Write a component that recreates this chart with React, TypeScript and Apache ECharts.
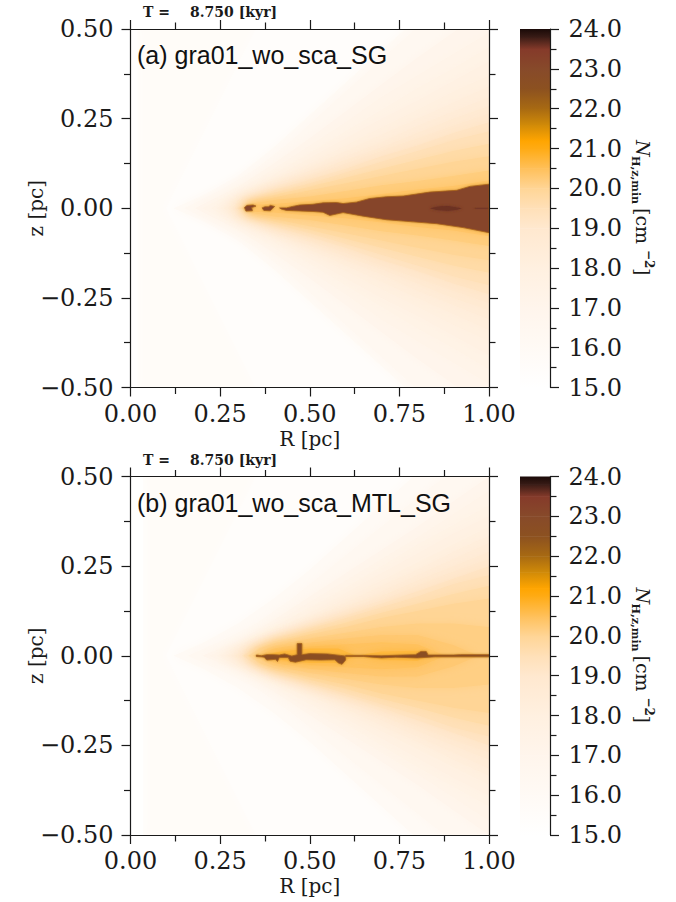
import React, { useEffect, useRef } from "react";
import * as echarts from "echarts";

type P = number[];
const fullPanel: P[] = [[0, 0.5], [1, 0.5], [1, -0.5], [0, -0.5]];

const xTicksMajor = 0.25;
const cbarValues = [15, 16, 17, 18, 19, 19.5, 20, 20.5, 21, 21.2, 21.6, 22, 22.5, 23, 23.5, 23.8, 24];
const cbarColors = ["#ffffff", "#fffaf5", "#fff5ec", "#fff0e0", "#ffe8cf", "#ffe0b8", "#ffd596", "#ffc05a", "#ffab14", "#ffa500", "#d08a08", "#a86a12", "#8c5120", "#874a2a", "#853a2a", "#3a1c16", "#1a0a08"];

const levelsA: [number, P[]][] = [
  [15.2, [[0, 0.5], [0.02, 0.5]]],
  [15.4, [[0.1, 0], [0.2, 0.2], [0.35, 0.5], [0.7, 0.7], [1, 0.7]]],
  [16.0, [[0.12, 0], [0.2, 0.035], [0.3, 0.09], [0.4, 0.17], [0.5, 0.26], [0.6, 0.35], [0.7, 0.44], [0.8, 0.53], [1, 0.7]]],
  [16.5, [[0.15, 0], [0.25, 0.05], [0.35, 0.11], [0.45, 0.19], [0.55, 0.28], [0.65, 0.37], [0.75, 0.46], [0.85, 0.55], [1, 0.68]]],
  [17.0, [[0.18, 0], [0.25, 0.035], [0.3, 0.06], [0.4, 0.125], [0.5, 0.195], [0.6, 0.27], [0.7, 0.345], [0.8, 0.42], [0.9, 0.49], [1, 0.56]]],
  [17.25, [[0.2, 0], [0.26, 0.03], [0.3, 0.05], [0.4, 0.11], [0.5, 0.175], [0.6, 0.24], [0.7, 0.31], [0.8, 0.37], [0.9, 0.43], [1, 0.49]]],
  [17.5, [[0.225, 0], [0.3, 0.045], [0.4, 0.095], [0.5, 0.155], [0.6, 0.215], [0.7, 0.275], [0.8, 0.335], [0.9, 0.39], [1, 0.45]]],
  [17.75, [[0.24, 0], [0.3, 0.04], [0.4, 0.085], [0.5, 0.14], [0.6, 0.195], [0.7, 0.25], [0.8, 0.3], [0.9, 0.355], [1, 0.41]]],
  [18.0, [[0.25, 0], [0.3, 0.035], [0.4, 0.08], [0.5, 0.125], [0.6, 0.175], [0.7, 0.225], [0.8, 0.275], [0.9, 0.325], [1, 0.37]]],
  [18.25, [[0.26, 0], [0.3, 0.03], [0.4, 0.07], [0.5, 0.115], [0.6, 0.16], [0.7, 0.205], [0.8, 0.25], [0.9, 0.295], [1, 0.34]]],
  [18.5, [[0.27, 0], [0.3, 0.025], [0.4, 0.065], [0.5, 0.105], [0.6, 0.145], [0.7, 0.185], [0.8, 0.23], [0.9, 0.27], [1, 0.31]]],
  [18.75, [[0.28, 0], [0.31, 0.025], [0.4, 0.06], [0.5, 0.095], [0.6, 0.135], [0.7, 0.17], [0.8, 0.21], [0.9, 0.25], [1, 0.285]]],
  [19.0, [[0.29, 0], [0.32, 0.025], [0.4, 0.055], [0.5, 0.09], [0.6, 0.125], [0.7, 0.16], [0.8, 0.195], [0.9, 0.23], [1, 0.265]]],
  [19.25, [[0.295, 0], [0.33, 0.025], [0.4, 0.05], [0.5, 0.08], [0.6, 0.11], [0.7, 0.145], [0.8, 0.175], [0.9, 0.21], [1, 0.24]]],
  [19.5, [[0.3, 0], [0.33, 0.02], [0.4, 0.043], [0.5, 0.07], [0.6, 0.1], [0.7, 0.13], [0.8, 0.16], [0.9, 0.19], [1, 0.215]]],
  [19.75, [[0.305, 0], [0.34, 0.02], [0.4, 0.037], [0.5, 0.06], [0.6, 0.085], [0.7, 0.11], [0.8, 0.135], [0.9, 0.16], [1, 0.18]]],
  [20.0, [[0.31, 0], [0.34, 0.016], [0.4, 0.03], [0.5, 0.05], [0.6, 0.07], [0.7, 0.09], [0.8, 0.11], [0.9, 0.13], [1, 0.145]]],
  [20.2, [[0.315, 0], [0.34, 0.013], [0.4, 0.023], [0.5, 0.033], [0.6, 0.048], [0.7, 0.064], [0.8, 0.076], [0.9, 0.09], [1, 0.105]]],
  [20.4, [[0.32, 0], [0.34, 0.01], [0.4, 0.012], [0.5, 0.02], [0.6, 0.028], [0.7, 0.04], [0.8, 0.052], [0.9, 0.062], [1, 0.078]]],
];

const levelsB: [number, P[]][] = [
  [15.1, [[0, 0.5], [0.035, 0.5]]],
  [15.4, [[0.1, 0], [0.2, 0.2], [0.35, 0.5], [0.7, 0.7], [1, 0.7]]],
  [16.0, [[0.12, 0], [0.2, 0.035], [0.3, 0.09], [0.4, 0.16], [0.5, 0.24], [0.6, 0.33], [0.7, 0.42], [0.8, 0.51], [1, 0.69]]],
  [16.5, [[0.16, 0], [0.27, 0.05], [0.35, 0.09], [0.45, 0.16], [0.55, 0.24], [0.65, 0.32], [0.75, 0.4], [0.85, 0.48], [1, 0.58]]],
  [17.0, [[0.2, 0], [0.3, 0.04], [0.4, 0.1], [0.5, 0.165], [0.6, 0.23], [0.7, 0.295], [0.8, 0.36], [0.9, 0.43], [1, 0.5]]],
  [17.25, [[0.22, 0], [0.3, 0.035], [0.4, 0.09], [0.5, 0.15], [0.6, 0.21], [0.7, 0.27], [0.8, 0.33], [0.9, 0.395], [1, 0.46]]],
  [17.5, [[0.24, 0], [0.3, 0.03], [0.4, 0.08], [0.5, 0.135], [0.6, 0.19], [0.7, 0.25], [0.8, 0.31], [0.9, 0.365], [1, 0.42]]],
  [17.75, [[0.25, 0], [0.3, 0.03], [0.4, 0.07], [0.5, 0.12], [0.6, 0.175], [0.7, 0.23], [0.8, 0.285], [0.9, 0.34], [1, 0.39]]],
  [18.0, [[0.26, 0], [0.32, 0.03], [0.4, 0.065], [0.5, 0.11], [0.6, 0.16], [0.7, 0.21], [0.8, 0.26], [0.9, 0.31], [1, 0.36]]],
  [18.25, [[0.27, 0], [0.33, 0.03], [0.4, 0.06], [0.5, 0.1], [0.6, 0.148], [0.7, 0.195], [0.8, 0.24], [0.9, 0.29], [1, 0.335]]],
  [18.5, [[0.28, 0], [0.33, 0.025], [0.4, 0.055], [0.5, 0.095], [0.6, 0.135], [0.7, 0.18], [0.8, 0.225], [0.9, 0.27], [1, 0.315]]],
  [18.75, [[0.29, 0], [0.34, 0.028], [0.4, 0.052], [0.5, 0.09], [0.6, 0.127], [0.7, 0.167], [0.8, 0.21], [0.9, 0.25], [1, 0.29]]],
  [19.0, [[0.3, 0], [0.34, 0.025], [0.4, 0.05], [0.5, 0.085], [0.6, 0.12], [0.7, 0.155], [0.8, 0.195], [0.9, 0.235], [1, 0.27]]],
  [19.25, [[0.31, 0], [0.35, 0.028], [0.4, 0.048], [0.5, 0.08], [0.6, 0.112], [0.7, 0.145], [0.8, 0.18], [0.9, 0.215], [1, 0.25]]],
  [19.5, [[0.315, 0], [0.35, 0.025], [0.4, 0.045], [0.5, 0.075], [0.6, 0.105], [0.7, 0.135], [0.8, 0.165], [0.9, 0.2], [1, 0.225]]],
  [19.75, [[0.325, 0], [0.36, 0.022], [0.4, 0.04], [0.5, 0.067], [0.6, 0.092], [0.7, 0.12], [0.8, 0.145], [0.9, 0.172], [1, 0.195]]],
  [20.0, [[0.33, 0], [0.36, 0.02], [0.4, 0.035], [0.5, 0.06], [0.6, 0.08], [0.7, 0.105], [0.8, 0.125], [0.9, 0.145], [1, 0.16]]],
  [20.15, [[0.34, 0], [0.4, 0.028], [0.5, 0.048], [0.6, 0.064], [0.7, 0.08], [0.8, 0.09], [0.9, 0.09], [1, 0.08]]],
  [20.3, [[0.355, 0], [0.4, 0.02], [0.5, 0.036], [0.6, 0.048], [0.7, 0.058], [0.8, 0.058], [0.9, 0.03], [0.97, 0]]],
  [20.45, [[0.37, 0], [0.42, 0.015], [0.5, 0.026], [0.6, 0.032], [0.7, 0.038], [0.8, 0.032], [0.88, 0]]],
  [20.7, [[0.36, 0], [0.42, 0.012], [0.5, 0.02], [0.58, 0.02], [0.63, 0], [0.7, 0.012], [0.8, 0.014], [0.84, 0]]],
];

// dense core outlines, [R, z]
const coreAClump1: P[] = [[0.318, 0.002], [0.325, 0.008], [0.342, 0.009], [0.35, 0.006], [0.338, 0.002], [0.34, -0.007], [0.322, -0.008]];
const coreAClump2: P[] = [[0.367, 0.001], [0.375, 0.004], [0.385, 0.004], [0.39, 0.008], [0.402, 0.005], [0.396, -0.001], [0.39, -0.007], [0.372, -0.006]];
const coreAMain: P[] = [[0.416, 0.001], [0.435, 0.001], [0.452, 0.005], [0.472, 0.009], [0.509, 0.011], [0.537, 0.015], [0.574, 0.016], [0.593, 0.013], [0.63, 0.017], [0.667, 0.027], [0.714, 0.032], [0.761, 0.034], [0.835, 0.045], [0.91, 0.05], [0.947, 0.061], [1, 0.067], [1, -0.068], [0.928, -0.054], [0.854, -0.043], [0.789, -0.038], [0.714, -0.032], [0.649, -0.022], [0.593, -0.012], [0.556, -0.02], [0.537, -0.011], [0.509, -0.009], [0.435, -0.006], [0.42, -0.002]];
const coreASpot: P[] = [[0.835, 0], [0.86, 0.005], [0.885, 0.006], [0.91, 0.002], [0.925, 0], [0.91, -0.004], [0.885, -0.007], [0.855, -0.005]];
const coreASliver: P[] = [[0.96, 0.001], [0.998, 0.001], [0.998, -0.001], [0.96, -0.001]];

const coreBMain: P[] = [[0.351, 0.002], [0.365, 0.0], [0.38, 0.003], [0.4, 0.003], [0.415, 0.002], [0.43, 0.005], [0.45, -0.001], [0.465, 0.003], [0.465, 0.034], [0.478, 0.034], [0.478, 0.003], [0.5, 0.006], [0.55, 0.005], [0.585, 0.001], [0.6, -0.001], [0.6, -0.012], [0.59, -0.024], [0.58, -0.02], [0.57, -0.011], [0.53, -0.012], [0.49, -0.011], [0.46, -0.018], [0.445, -0.015], [0.44, -0.005], [0.415, -0.005], [0.41, -0.016], [0.405, -0.01], [0.38, -0.012], [0.373, -0.004], [0.365, -0.003], [0.351, -0.002]];
const coreBLine: P[] = [[0.6, 0.001], [0.65, 0.001], [0.7, 0.0], [0.76, 0.002], [0.795, 0.003], [0.81, 0.012], [0.825, 0.012], [0.83, 0.002], [0.9, 0.002], [0.92, 0.003], [1, 0.003], [1, -0.003], [0.92, -0.003], [0.85, -0.003], [0.8, -0.006], [0.74, -0.004], [0.7, -0.006], [0.65, -0.002], [0.6, -0.002]];

const coresA: [number, P[]][] = [[23.2, coreAClump1], [23.2, coreAClump2], [23.2, coreAMain], [23.6, coreASpot], [23.6, coreASliver]];
const coresB: [number, P[]][] = [[22.7, coreBMain], [22.7, coreBLine]];

const mainTicks = [-0.5, -0.25, 0, 0.25, 0.5];

function colorOf(v: number): string {
  let i = 0;
  while (i < cbarValues.length - 2 && v > cbarValues[i + 1]) i++;
  const t = (v - cbarValues[i]) / (cbarValues[i + 1] - cbarValues[i]);
  const h = (s: string, k: number) => parseInt(s.substr(k, 2), 16);
  const c = [1, 3, 5].map((k) => Math.round(h(cbarColors[i], k) * (1 - t) + h(cbarColors[i + 1], k) * t));
  return `rgb(${c[0]},${c[1]},${c[2]})`;
}

const SERIF = '"DejaVu Serif"';
const INK = "#1a1a1a";

function axisCommon(showLabel: boolean) {
  return {
    type: "value" as const,
    z: 10,
    axisLine: { show: true, onZero: false, lineStyle: { color: INK, width: 1.2 } },
    axisTick: { show: true, inside: false, length: 9, lineStyle: { color: INK, width: 1.2 } },
    minorTick: { show: true, splitNumber: 2, length: 6.5, lineStyle: { color: INK, width: 1.2 } },
    splitLine: { show: false },
    minorSplitLine: { show: false },
    axisLabel: { show: showLabel, color: INK, fontFamily: SERIF, fontSize: 24, hideOverlap: false, showMinLabel: true, showMaxLabel: true },
  };
}

function field(xAxisIndex: number, yAxisIndex: number, levels: [number, P[]][], cores: [number, P[]][], base: number) {
  const polys: { fill: string; pts: P[]; core?: number }[] = [{ fill: colorOf(base), pts: fullPanel }];
  levels.forEach(([lv, up]) => {
    const low = [...up].reverse().map(([r, z]) => [r, -z]);
    polys.push({ fill: colorOf(lv), pts: [...up, ...low] });
  });
  cores.forEach(([lv, pts]) => polys.push({ fill: colorOf(lv), pts, core: lv }));
  return {
    type: "custom" as const,
    xAxisIndex,
    yAxisIndex,
    clip: true,
    silent: true,
    data: polys.map((_, i) => [i]),
    renderItem: (params: any, api: any) => {
      const p = polys[params.dataIndex];
      const isBase = params.dataIndex === 0;
      const plainCore = p.core !== undefined && p.core >= 23.5;
      return {
        type: "polygon",
        shape: { points: p.pts.map((q) => api.coord(q)) },
        style: plainCore
          ? { fill: p.fill, shadowBlur: 3, shadowColor: p.fill }
          : p.core !== undefined
          ? { fill: p.fill, stroke: "#a8621c", lineWidth: 0.8, shadowBlur: 2, shadowColor: "#c98a2a" }
          : { fill: p.fill, shadowBlur: isBase ? 0 : 10, shadowColor: p.fill },
      };
    },
  };
}

function colorbar(xAxisIndex: number, yAxisIndex: number) {
  return {
    type: "custom" as const,
    xAxisIndex,
    yAxisIndex,
    silent: true,
    data: cbarValues.slice(0, -1).map((v, i) => [i, v]),
    renderItem: (params: any, api: any) => {
      const i = params.dataIndex;
      const a = api.coord([0, cbarValues[i + 1]]);
      const b = api.coord([1, cbarValues[i]]);
      return {
        type: "rect",
        shape: { x: a[0], y: a[1], width: b[0] - a[0], height: b[1] - a[1] + 0.5 },
        style: {
          fill: new echarts.graphic.LinearGradient(0, 0, 0, 1, [
            { offset: 0, color: cbarColors[i + 1] },
            { offset: 1, color: cbarColors[i] },
          ]),
        },
      };
    },
  };
}

const T_LABEL = "T =";
const T_VALUE = "8.750 [kyr]";

function panelTexts(top: number, title: string) {
  const lab = (text: string, x: number, y: number, font: string, extra: any = {}) => ({
    type: "text",
    x,
    y,
    z: 30,
    style: { text, font, fill: INK, verticalAlign: "middle", ...extra },
  });
  return [
    lab(T_LABEL, 143, top - 17, `bold 14px ${SERIF}`),
    lab(T_VALUE, 190, top - 17, `bold 14px ${SERIF}`),
    lab(title, 137, top + 26, '25px "Liberation Sans"', { fill: "#111" }),
    {
      type: "group",
      x: 643,
      y: top + 111,
      z: 30,
      rotation: -Math.PI / 2,
      children: [
        lab("N", 0, 0, `italic 19px ${SERIF}`),
        lab("H,z,min", 16, 8, `bold 11px ${SERIF}`),
        lab("[cm", 68, 0, `19px ${SERIF}`),
        lab("−2", 110, -6, `bold 12px ${SERIF}`),
        lab("]", 128, 0, `19px ${SERIF}`),
      ],
    },
  ];
}

export default function App() {
  const ref = useRef<HTMLDivElement>(null);
  useEffect(() => {
    const chart = echarts.init(ref.current!, undefined, { renderer: "svg" });
    const tops = [29, 476.5];
    const grid = [
      ...tops.map((top) => ({ left: 130.5, width: 358.5, top, height: 358.5, outerBoundsMode: "none" })),
      ...tops.map((top) => ({ left: 520, width: 30, top, height: 358.5, outerBoundsMode: "none" })),
    ];
    const xAxis: any[] = [];
    const yAxis: any[] = [];
    [0, 1].forEach((g) => {
      const c = axisCommon(true);
      xAxis.push({
        ...c, gridIndex: g, position: "bottom", min: 0, max: 1, interval: xTicksMajor,
        axisLabel: { ...c.axisLabel, margin: 14, formatter: (v: number) => v.toFixed(2) },
        name: "R [pc]", nameLocation: "middle", nameGap: 41, nameMoveOverlap: false,
        nameTextStyle: { color: INK, fontFamily: SERIF, fontSize: 20 },
      });
      xAxis.push({ ...axisCommon(false), gridIndex: g, position: "top", min: 0, max: 1, interval: xTicksMajor });
      yAxis.push({
        ...c, gridIndex: g, position: "left", min: mainTicks[0], max: mainTicks[4], interval: 0.25,
        axisLabel: { ...c.axisLabel, margin: 17, formatter: (v: number) => v.toFixed(2).replace("-", "−") },
        name: "z [pc]", nameLocation: "middle", nameGap: 85, nameRotate: 90, nameMoveOverlap: false,
        nameTextStyle: { color: INK, fontFamily: SERIF, fontSize: 20 },
      });
      yAxis.push({ ...axisCommon(false), gridIndex: g, position: "right", min: mainTicks[0], max: mainTicks[4], interval: 0.25 });
    });
    [2, 3].forEach((g) => {
      xAxis.push({ type: "value", gridIndex: g, min: 0, max: 1, show: false });
      const c = axisCommon(true);
      yAxis.push({
        ...c, gridIndex: g, position: "right", min: 15, max: 24, interval: 1,
        axisLabel: { ...c.axisLabel, align: "right", margin: 72, formatter: (v: number) => v.toFixed(1) },
      });
    });
    chart.setOption({
      animation: false,
      backgroundColor: "#ffffff",
      grid,
      xAxis,
      yAxis,
      series: [
        field(0, 0, levelsA, coresA, 15.7),
        field(2, 2, levelsB, coresB, 15.7),
        colorbar(4, 4),
        colorbar(5, 5),
      ],
      graphic: { elements: [...panelTexts(tops[0], "(a) gra01_wo_sca_SG"), ...panelTexts(tops[1], "(b) gra01_wo_sca_MTL_SG")] },
    });
    return () => chart.dispose();
  }, []);
  return <div ref={ref} style={{ position: "absolute", left: 0, top: 0, width: 676, height: 902 }} />;
}
